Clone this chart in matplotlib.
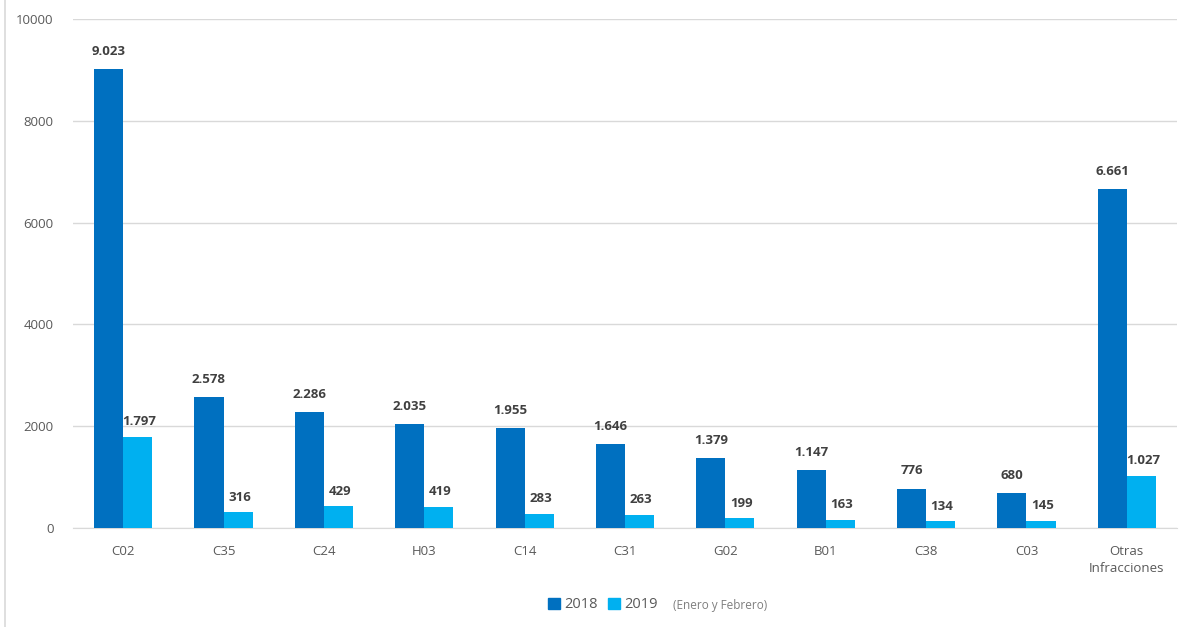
import matplotlib
matplotlib.use("Agg")
import matplotlib.pyplot as plt
from matplotlib.lines import Line2D
from matplotlib.patches import Patch
import numpy as np

categories = ["C02", "C35", "C24", "H03", "C14", "C31", "G02", "B01", "C38", "C03", "Otras\nInfracciones"]
values_2018 = [9023, 2578, 2286, 2035, 1955, 1646, 1379, 1147, 776, 680, 6661]
values_2019 = [1797, 316, 429, 419, 283, 263, 199, 163, 134, 145, 1027]
series_names = ["2018", "2019"]
note = "(Enero y Febrero)"

c18 = "#0070C0"
c19 = "#00B0F0"
txt = "#404040"

plt.rcParams['font.family'] = ['Open Sans', 'DejaVu Sans']

fig = plt.figure(figsize=(11.95, 6.27), dpi=100)
ax = fig.add_axes([73/1195, 1-528/627, (1177-73)/1195, (528-19)/627])

x = np.arange(len(categories))
w = 0.29
ax.bar(x - w/2, values_2018, w, color=c18, zorder=3)
ax.bar(x + w/2, values_2019, w, color=c19, zorder=3)

def fmt(v):
    return f"{v:,}".replace(",", ".")

for xi, v in zip(x - w/2, values_2018):
    ax.annotate(fmt(v), (xi, v), xytext=(0, 8), textcoords="offset points",
                ha="center", va="bottom", fontsize=9.5, fontweight="bold", color=txt)
for xi, v in zip(x + w/2, values_2019):
    ax.annotate(fmt(v), (xi, v), xytext=(1, 6), textcoords="offset points",
                ha="center", va="bottom", fontsize=9.5, fontweight="bold", color=txt)

ax.set_xlim(-0.5, len(categories) - 0.5)
ax.set_ylim(0, 10000)
ax.set_yticks([0, 2000, 4000, 6000, 8000, 10000])
ax.yaxis.grid(True, color="#D9D9D9", linewidth=1, zorder=0)
ax.set_axisbelow(True)
for s in ["top", "right", "left"]:
    ax.spines[s].set_visible(False)
ax.spines["bottom"].set_color("#D9D9D9")
ax.tick_params(axis="both", length=0, labelsize=9.5, colors="#595959")
ax.tick_params(axis="y", pad=14)
ax.tick_params(axis="x", pad=12)
ax.set_xticks(x)
ax.set_xticklabels(categories, linespacing=1.4)

handles = [Patch(color=c18), Patch(color=c19)]
fig.legend(handles, series_names, loc="center", bbox_to_anchor=(603/1195, 1-605/627),
           ncol=2, frameon=False, fontsize=10.5, handlelength=0.8, handleheight=0.8,
           handletextpad=0.3, columnspacing=0.7, labelcolor="#595959")
fig.text(673/1195, 1-605/627, note, fontsize=8.5, color="#7F7F7F", ha="left", va="center")

fig.add_artist(Line2D([5/1195, 5/1195], [0, 1], color="#D9D9D9", linewidth=1.2))

fig.savefig("out.png", dpi=100, facecolor="white")
